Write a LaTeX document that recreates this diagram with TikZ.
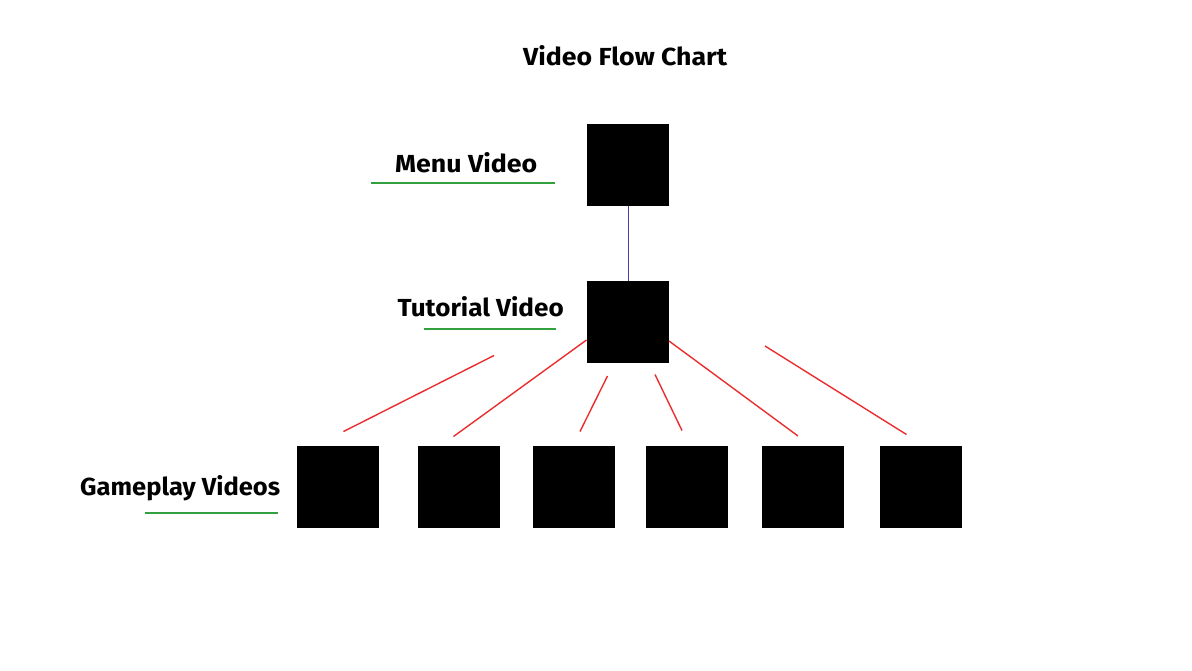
\documentclass[tikz,border=0pt]{standalone}
\usepackage{fontspec}
\setmainfont{Fira Sans}
\usepackage{graphicx}
\definecolor{ulgreen}{RGB}{50,160,60}
\definecolor{linkred}{RGB}{235,45,45}
\definecolor{linkblue}{RGB}{70,60,170}
\tikzset{
  vbox/.style={fill=black, draw=none, minimum width=82pt, minimum height=82pt, inner sep=0pt, anchor=north west},
  lbl/.style={anchor=base west, inner sep=0pt, font=\bfseries},
  uline/.style={ulgreen, line width=2pt},
  redlink/.style={linkred, line width=1.4pt},
  bluelink/.style={linkblue, line width=1.1pt}
}
\newcommand{\fitlabel}[2]{\resizebox{#1pt}{20pt}{#2}}
\begin{document}
\begin{tikzpicture}[x=1pt,y=-1pt]
\useasboundingbox (0,0) rectangle (1192,670);
% title and labels
\node[lbl] (title) at (523,65) {\fitlabel{204}{Video Flow Chart}};
\node[lbl] (lmenu) at (395,172.7) {\fitlabel{142}{Menu Video}};
\node[lbl] (ltut) at (397.5,316.7) {\fitlabel{166}{Tutorial Video}};
\node[lbl] (lgame) at (80,495) {\fitlabel{200}{Gameplay Videos}};
% underlines
\draw[uline] (371,183) -- (555,183);
\draw[uline] (424,328.5) -- (556,328.5);
\draw[uline] (145,513) -- (278,513);
% boxes
\node[vbox] (menu) at (587,124) {};
\node[vbox] (tut) at (587,281) {};
\node[vbox] (g1) at (297,446) {};
\node[vbox] (g2) at (418,446) {};
\node[vbox] (g3) at (533,446) {};
\node[vbox] (g4) at (646,446) {};
\node[vbox] (g5) at (762,446) {};
\node[vbox] (g6) at (880,446) {};
% link ends
\coordinate (a1) at (494,355.5); \coordinate (b1) at (343.5,431.5);
\coordinate (a2) at (586.5,340); \coordinate (b2) at (453.5,436.5);
\coordinate (a3) at (607.5,376); \coordinate (b3) at (580,431.5);
\coordinate (a4) at (655,374.5); \coordinate (b4) at (682,430.5);
\coordinate (a5) at (669,341); \coordinate (b5) at (798,436);
\coordinate (a6) at (765,346); \coordinate (b6) at (906.5,434.5);
% connectors
\draw[bluelink] (menu.south) -- (tut.north);
\draw[redlink] (a1) -- (b1);
\draw[redlink] (a2) -- (b2);
\draw[redlink] (a3) -- (b3);
\draw[redlink] (a4) -- (b4);
\draw[redlink] (a5) -- (b5);
\draw[redlink] (a6) -- (b6);
\end{tikzpicture}
\end{document}
